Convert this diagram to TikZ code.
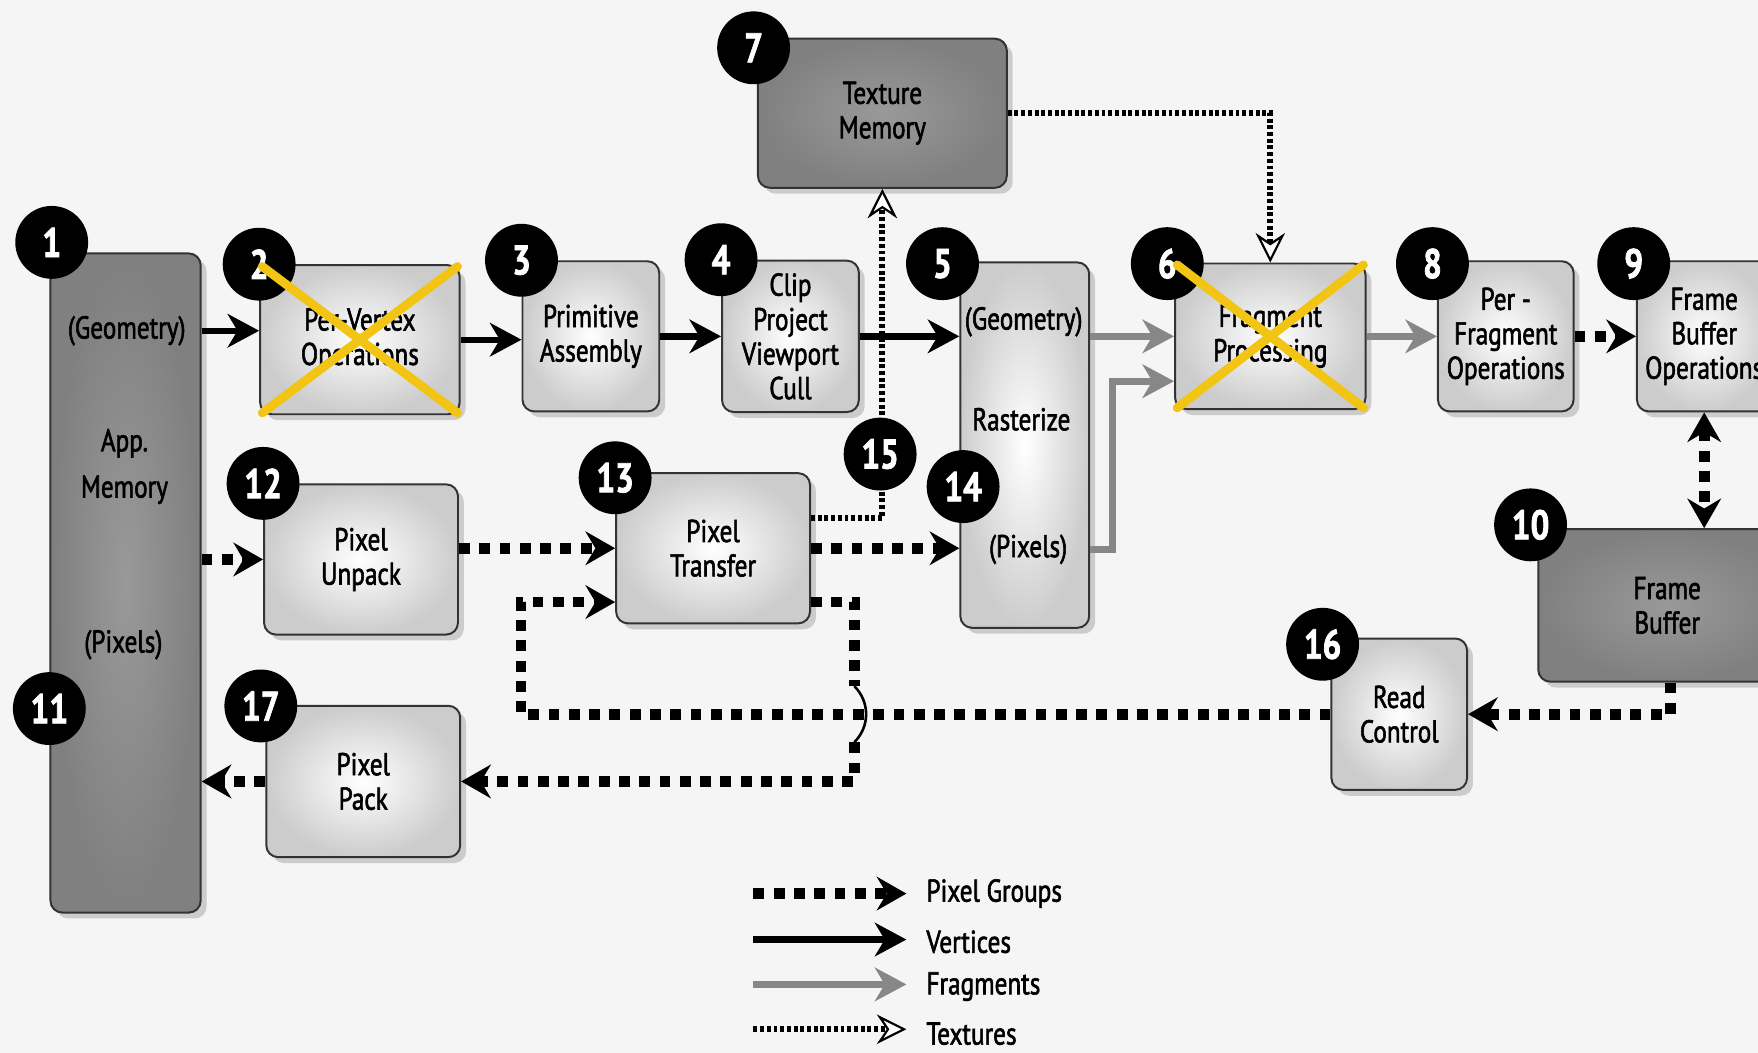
\documentclass[tikz,border=0pt]{standalone}
\usepackage{fontspec}
\setmainfont[FakeStretch=0.8,FakeBold=1.8]{PT Sans}
\usetikzlibrary{arrows.meta,shadows,calc,positioning}

\definecolor{xyellow}{RGB}{242,196,20}
\definecolor{fraggray}{RGB}{135,135,135}
\definecolor{paper}{RGB}{245,245,245}

\newcommand{\boxfont}{\fontsize{16}{17.5}\selectfont}
\newcommand{\badgefont}{\fontsize{21}{21}\selectfont\bfseries}

\tikzset{
	stage/.style={draw=black!80, line width=1pt, rounded corners=6pt,
		inner color=white, outer color=black!20,
		drop shadow={shadow xshift=3pt, shadow yshift=-3pt, opacity=0.35},
		inner sep=0pt, align=center, font=\boxfont}
}
\tikzset{
	store/.style={stage, inner color=black!40, outer color=black!50}
}
\tikzset{
	badge/.style={circle, fill=black, text=white, minimum size=1.3cm,
		inner sep=0pt, font=\badgefont}
}
\tikzset{
	lbl/.style={inner sep=0pt, align=center, font=\boxfont}
}
\tikzset{
	vert/.style={line width=3.2pt, -{Stealth[length=16pt,width=17pt,inset=5pt]}},
	fragm/.style={line width=3.6pt, draw=fraggray, -{Stealth[length=16pt,width=17pt,inset=5pt]}},
	pix/.style={line width=5.5pt, dash pattern=on 5.5pt off 4.8pt, -{Stealth[length=15pt,width=17pt,inset=5pt]}},
	texarr/.style={line width=3pt, dash pattern=on 2pt off 1.4pt,
		-{Stealth[length=15pt,width=15pt,inset=5pt,fill=white,line width=1.1pt]}},
	cross/.style={line width=4.5pt, draw=xyellow, line cap=round, shorten >=2pt, shorten <=2pt}
}

\begin{document}
\begin{tikzpicture}[x=0.02cm,y=-0.02cm]
\useasboundingbox (0,0) rectangle (1568,939);
\clip (0,0) rectangle (1568,939);
\fill[paper] (0,0) rectangle (1568,939);

%Stages
\node[store, minimum width=2.68cm, minimum height=11.76cm] (app) at (112,520) {};
\node[stage, minimum width=3.56cm, minimum height=2.66cm] (pvo) at (321,303) {Per-Vertex\\Operations};
\node[stage, minimum width=2.44cm, minimum height=2.68cm] (pa) at (527,300) {Primitive\\Assembly};
\node[stage, minimum width=2.44cm, minimum height=2.70cm] (clip) at (705,300) {Clip\\Project\\Viewport\\Cull};
\node[stage, minimum width=2.30cm, minimum height=6.52cm] (rast) at (914,397) {};
\node[stage, minimum width=3.40cm, minimum height=2.60cm] (frag) at (1133,300) {Fragment\\Processing};
\node[store, minimum width=4.44cm, minimum height=2.66cm] (tex) at (787,101) {Texture\\Memory};
\node[stage, minimum width=2.42cm, minimum height=2.68cm] (pfo) at (1343,300) {Per -\\Fragment\\Operations};
\node[stage, minimum width=2.40cm, minimum height=2.68cm] (fbo) at (1520,300) {Frame\\Buffer\\Operations};
\node[store, minimum width=4.60cm, minimum height=2.72cm] (fb) at (1487,540) {Frame\\Buffer};
\node[stage, minimum width=3.46cm, minimum height=2.68cm] (unpack) at (322,499) {Pixel\\Unpack};
\node[stage, minimum width=3.46cm, minimum height=2.68cm] (transfer) at (636,489) {Pixel\\Transfer};
\node[stage, minimum width=2.42cm, minimum height=2.70cm] (readc) at (1248,637) {Read\\Control};
\node[stage, minimum width=3.46cm, minimum height=2.70cm] (pack) at (324,697) {Pixel\\Pack};

%Inner labels
\node[lbl] (appgeo) at (113,295) {(Geometry)};
\node[lbl] (appmem) at (111,416) {App.\\[6pt]Memory};
\node[lbl] (apppix) at (110,575) {(Pixels)};
\node[lbl] (rgeo) at (913,287) {(Geometry)};
\node[lbl] (rras) at (911,374) {Rasterize};
\node[lbl] (rpix) at (917,490) {(Pixels)};

%Textures
\draw[texarr] (tex.east) -| (frag.north);
\draw[texarr] ($(transfer.east)+(0,-27)$) -| (tex.south);

%Vertices
\draw[vert] (app.east |- appgeo) -- (appgeo -| pvo.west);
\draw[vert] (pvo.east) -- (pvo.east -| pa.west);
\draw[vert] (pa.east) -- (pa.east -| clip.west);
\draw[vert] (clip.east) -- (clip.east -| rast.west);

%Fragments
\draw[fragm] (rast.east |- frag.west) -- (frag.west);
\draw[fragm] (rpix -| rast.east) -- ++(20,0) |- ($(frag.west)+(0,40)$);
\draw[fragm] (frag.east) -- (frag.east -| pfo.west);

%Pixel groups
\draw[pix] (app.east |- unpack.west) -- (unpack.west);
\draw[pix] (unpack.east |- transfer.west) -- (transfer.west);
\draw[pix] (transfer.east) -- (transfer.east -| rast.west);
\draw[pix] (pfo.east) -- (pfo.east -| fbo.west);
\draw[pix, {Stealth[length=15pt,width=17pt,inset=5pt]}-{Stealth[length=15pt,width=17pt,inset=5pt]}] (fbo.south) -- (fbo.south |- fb.north);
\draw[pix] ($(fb.south)+(3,0)$) |- (readc.east);
\draw[pix] (readc.west) -- ++(-722,0) |- ($(transfer.west)+(0,48)$);
\coordinate (hopA) at (762,612);
\coordinate (hopB) at (762,662);
\draw[pix,-] ($(transfer.east)+(0,48)$) -| (hopA);
\draw[line width=1.3pt] (hopA) .. controls +(14,14) and +(14,-14) .. (hopB);
\draw[pix] (hopB) |- (pack.east);
\draw[pix] (pack.west) -- (pack.west -| app.east);

%Badges
\node[badge] (b1) at ($(app.north west)+(2,-9)$) {1};
\node[badge] (b2) at (pvo.north west) {2};
\node[badge] (b3) at (pa.north west) {3};
\node[badge] (b4) at (clip.north west) {4};
\node[badge] (b5) at ($(rast.north west)+(-15,2)$) {5};
\node[badge] (b6) at ($(frag.north west)+(-6,1)$) {6};
\node[badge] (b7) at ($(tex.north west)+(-3,9)$) {7};
\node[badge] (b8) at ($(pfo.north west)+(-4,3)$) {8};
\node[badge] (b9) at ($(fbo.north west)+(-2,3)$) {9};
\node[badge] (b10) at ($(fb.north west)+(-6,-3)$) {10};
\node[badge] (b11) at (44,632) {11};
\node[badge] (b12) at (unpack.north west) {12};
\node[badge] (b13) at ($(transfer.north west)+(0,5)$) {13};
\node[badge] (b14) at (859,434) {14};
\node[badge] (b15) at (785,405) {15};
\node[badge] (b16) at ($(readc.north west)+(-7,6)$) {16};
\node[badge] (b17) at ($(pack.north west)+(-4,1)$) {17};

%Crossed out
\draw[cross] (pvo.north west) -- (pvo.south east);
\draw[cross] (pvo.south west) -- (pvo.north east);
\draw[cross] (frag.north west) -- (frag.south east);
\draw[cross] (frag.south west) -- (frag.north east);

%Legend
\coordinate (lgs1) at (672,797);
\coordinate (lgs2) at (672,838);
\coordinate (lgs3) at (672,878);
\coordinate (lgs4) at (672,918);
\node[lbl, anchor=west] (lgpix) at (826,797) {Pixel Groups};
\node[lbl, anchor=west] (lgvert) at (826,840) {Vertices};
\node[lbl, anchor=west] (lgfrag) at (826,880) {Fragments};
\node[lbl, anchor=west] (lgtex) at (826,922) {Textures};
\draw[pix, shorten >=10pt] (lgs1) -- (lgs1 -| lgpix.west);
\draw[vert, shorten >=10pt] (lgs2) -- (lgs2 -| lgvert.west);
\draw[fragm, shorten >=10pt] (lgs3) -- (lgs3 -| lgfrag.west);
\draw[texarr, shorten >=10pt] (lgs4) -- (lgs4 -| lgtex.west);
\end{tikzpicture}
\end{document}
